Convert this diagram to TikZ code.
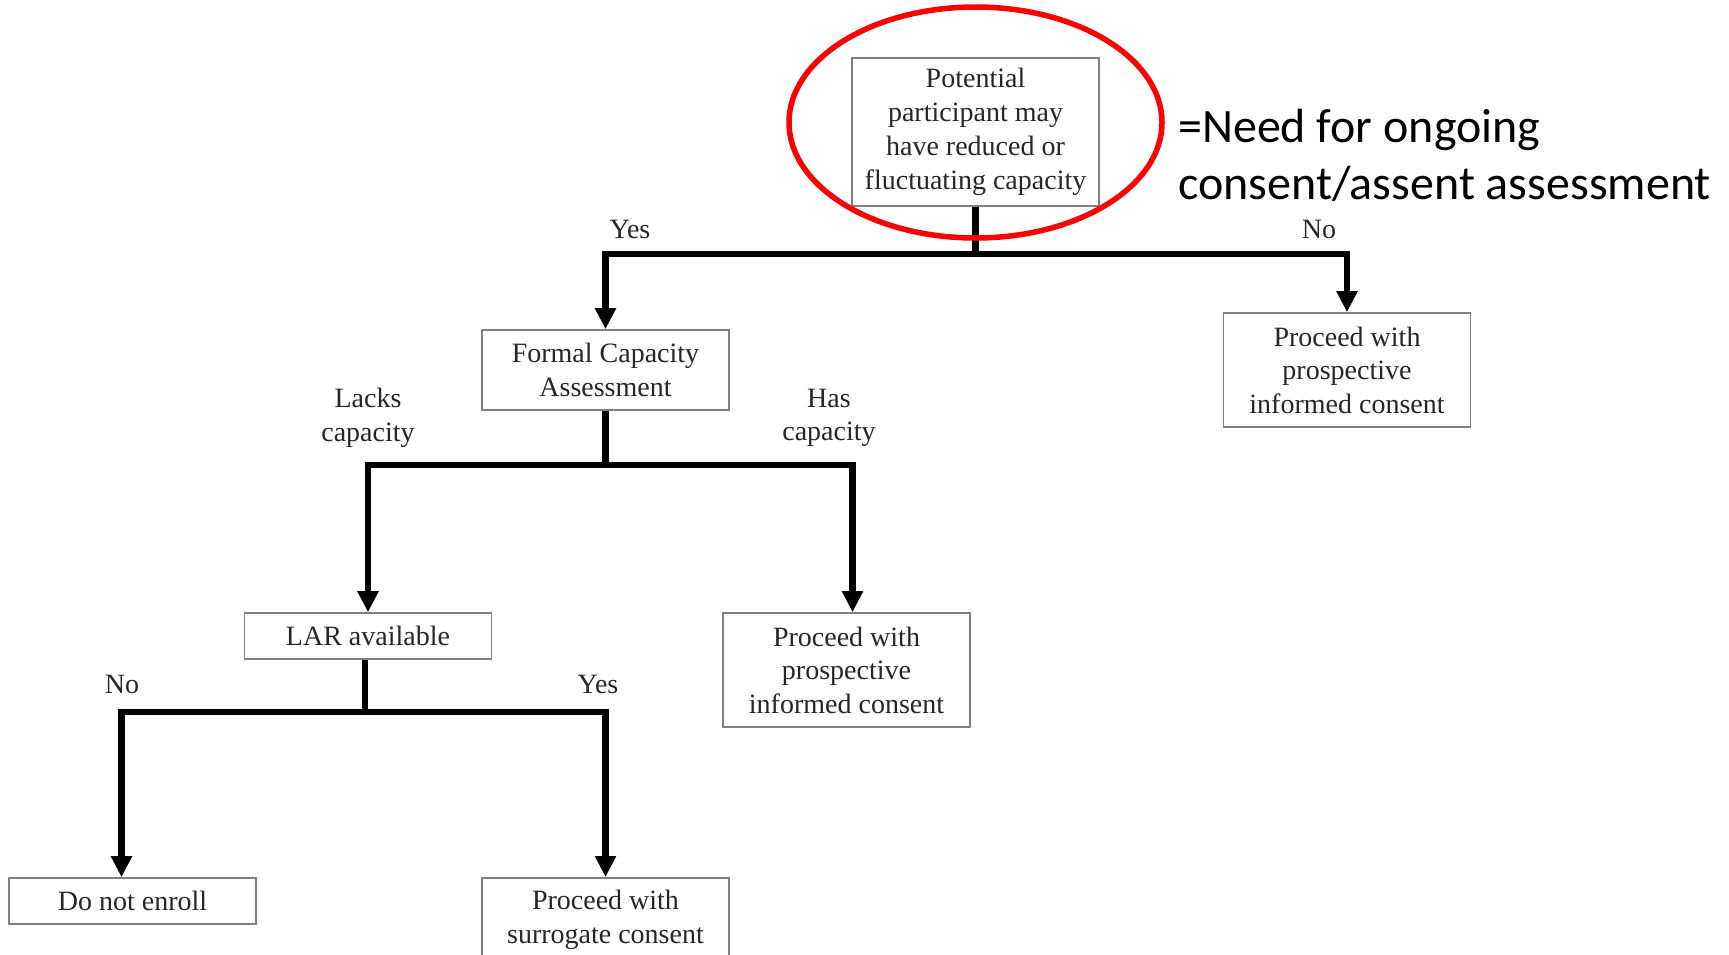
\documentclass[tikz,border=0pt]{standalone}
\usepackage{fontspec}
\setmainfont{Liberation Serif}
\newfontfamily\notefont{Carlito}
\usetikzlibrary{arrows.meta,calc}
\begin{document}
\begin{tikzpicture}[x=1pt,y=1pt,
 box/.style={draw=black!50, line width=1.6pt, align=center, inner sep=0pt, text=black!85,
   font=\fontsize{28}{33.5}\selectfont, minimum width=247pt},
 ln/.style={line width=6.5pt, line join=miter},
 arr/.style={ln, -{Triangle[length=21pt,width=20pt]}},
 lbl/.style={align=center, inner sep=0pt, text=black!85, font=\fontsize{28}{33.5}\selectfont}]
\useasboundingbox (0,0) rectangle (1729,-954);
\fill[white] (0,0) rectangle (1729,-954);

% boxes
\node[box, minimum height=148pt, font=\fontsize{28}{34}\selectfont] (top) at (975.5,-132) {Potential\\participant may\\have reduced or\\fluctuating capacity};
\node[box, minimum height=80pt] (fca) at (605.5,-370) {Formal Capacity\\Assessment};
\node[box, minimum height=114pt] (pr1) at (1347,-370) {Proceed with\\prospective\\informed consent};
\node[box, minimum height=46pt] (lar) at (368,-636) {LAR available};
\node[box, minimum height=114pt] (pr2) at (846.5,-670) {Proceed with\\prospective\\informed consent};
\node[box, minimum height=46pt] (dne) at (132.5,-901) {Do not enroll};
\node[box, minimum height=84pt, anchor=north] (pr3) at (605.5,-877) {Proceed with\\surrogate consent};

% connectors
\draw[ln] (top.south) -- ++(0,-47) coordinate (j1);
\draw[arr] (j1) -| (fca.north);
\draw[arr] (j1) -| (pr1.north);

\draw[ln] (fca.south) -- ++(0,-54) coordinate (j2);
\draw[arr] (j2) -| (lar.north);
\draw[arr] (j2) -| ([xshift=6pt]pr2.north);

\draw[ln] ([xshift=-3pt]lar.south) -- ++(0,-52) coordinate (j3);
\draw[arr] (j3) -| ([xshift=-11pt]dne.north);
\draw[arr] (j3) -| (pr3.north);

% labels
\node[lbl] (yes1) at (630,-229) {Yes};
\node[lbl] (no1) at (1319,-229) {No};
\node[lbl] (lacks) at (368,-418) {Lacks\\capacity};
\node[lbl] (has) at (829,-418) {Has\\capacity};
\node[lbl] (no2) at (122,-684) {No};
\node[lbl] (yes2) at (598,-684) {Yes};

% annotation
\draw[red, line width=5.5pt] (975.5,-122.5) ellipse [x radius=186.5, y radius=115.5];
\node[anchor=west, inner sep=0pt, align=left, font=\notefont\fontsize{48}{57}\selectfont] (note) at (1178,-155) {=Need for ongoing\\consent/assent assessment};
\end{tikzpicture}
\end{document}
